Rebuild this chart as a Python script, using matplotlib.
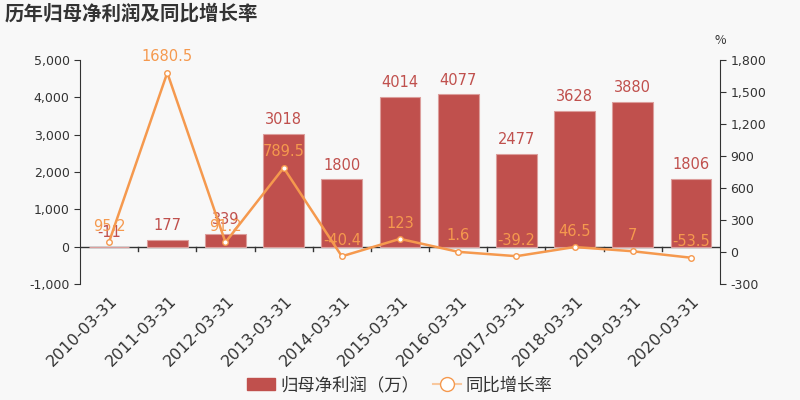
import matplotlib
matplotlib.use("Agg")
import matplotlib.pyplot as plt
from matplotlib.lines import Line2D
from matplotlib.patches import Patch

plt.rcParams['font.family'] = ['Noto Sans CJK SC', 'DejaVu Sans']

categories = ["2010-03-31", "2011-03-31", "2012-03-31", "2013-03-31", "2014-03-31",
              "2015-03-31", "2016-03-31", "2017-03-31", "2018-03-31", "2019-03-31", "2020-03-31"]
profit = [-11, 177, 339, 3018, 1800, 4014, 4077, 2477, 3628, 3880, 1806]
growth = [95.2, 1680.5, 91.2, 789.5, -40.4, 123, 1.6, -39.2, 46.5, 7, -53.5]
profit_labels = ["-11", "177", "339", "3018", "1800", "4014", "4077", "2477", "3628", "3880", "1806"]
growth_labels = ["95.2", "1680.5", "91.2", "789.5", "-40.4", "123", "1.6", "-39.2", "46.5", "7", "-53.5"]
left_ticks = [-1000, 0, 1000, 2000, 3000, 4000, 5000]
right_ticks = [-300, 0, 300, 600, 900, 1200, 1500, 1800]

bar_color = "#c0504d"
line_color = "#f5994e"
bg = "#f8f8f8"
text_color = "#333333"

fig = plt.figure(figsize=(8, 4), dpi=100, facecolor=bg)
ax = fig.add_axes([0.1, 0.29, 0.8, 0.56], facecolor=bg)
ax2 = ax.twinx()

x = list(range(len(categories)))
ax.bar(x, profit, width=0.7, color=bar_color, edgecolor="#dc9e9c", linewidth=0.8, zorder=2)
ax.set_xlim(-0.5, len(categories) - 0.5)
ax.set_ylim(-1000, 5000)
ax.set_yticks(left_ticks)
ax.set_yticklabels([f"{v:,}" for v in left_ticks], fontsize=9, color=text_color,
                   family=['DejaVu Sans'])

for xi, v, lab in zip(x, profit, profit_labels):
    ax.annotate(lab, (xi, max(v, 0)), xytext=(0, 5), textcoords="offset points",
                ha="center", va="bottom", color=bar_color, fontsize=10.5,
                family=['DejaVu Sans'], zorder=5)

ax2.plot(x, growth, color=line_color, linewidth=1.8, marker="o", markersize=4,
         markerfacecolor="white", markeredgecolor=line_color, markeredgewidth=1, zorder=3)
ax2.set_ylim(-300, 1800)
ax2.set_yticks(right_ticks)
ax2.set_yticklabels([f"{v:,}" for v in right_ticks], fontsize=9, color=text_color,
                    family=['DejaVu Sans'])
for xi, v, lab in zip(x, growth, growth_labels):
    ax2.annotate(lab, (xi, v), xytext=(0, 6), textcoords="offset points",
                 ha="center", va="bottom", color=line_color, fontsize=10.5,
                 family=['DejaVu Sans'], zorder=6)

# spines
for a in (ax, ax2):
    a.spines['top'].set_visible(False)
    a.spines['bottom'].set_visible(False)
ax.spines['right'].set_visible(False)
ax2.spines['left'].set_visible(False)
ax.spines['left'].set_color(text_color)
ax2.spines['right'].set_color(text_color)
ax.axhline(0, color=text_color, linewidth=1, zorder=1)

# x ticks at band boundaries, labels at centers
ax.set_xticks([])
for i in range(len(categories) - 1):
    ax.plot([i + 0.5, i + 0.5], [0, -110], color=text_color, linewidth=1, clip_on=False)
for xi, lab in zip(x, categories):
    ax.text(xi + 0.02, -1250, lab, rotation=45, ha="right", va="top",
            rotation_mode="anchor", fontsize=11.5, color=text_color, family=['DejaVu Sans'])

ax.tick_params(axis='y', length=4, color=text_color)
ax2.tick_params(axis='y', length=4, color=text_color)

fig.text(0.006, 0.967, "历年归母净利润及同比增长率", fontsize=14, fontweight="bold",
         color="#333333", ha="left", va="center")
fig.text(0.9, 0.9, "%", fontsize=9, color=text_color, ha="center", va="center")

handles = [Patch(facecolor=bar_color, edgecolor=bar_color),
           Line2D([0], [0], color="#f8c89e", linewidth=1.5, marker="o", markersize=10,
                  markerfacecolor="white", markeredgecolor=line_color)]
fig.legend(handles, ["归母净利润（万）", "同比增长率"], loc="center", bbox_to_anchor=(0.5, 0.037),
           ncol=2, frameon=False, fontsize=12.5, handlelength=1.6, columnspacing=0.8,
           handletextpad=0.3, labelcolor="#333333")

fig.savefig("out.png", dpi=100, facecolor=bg)
